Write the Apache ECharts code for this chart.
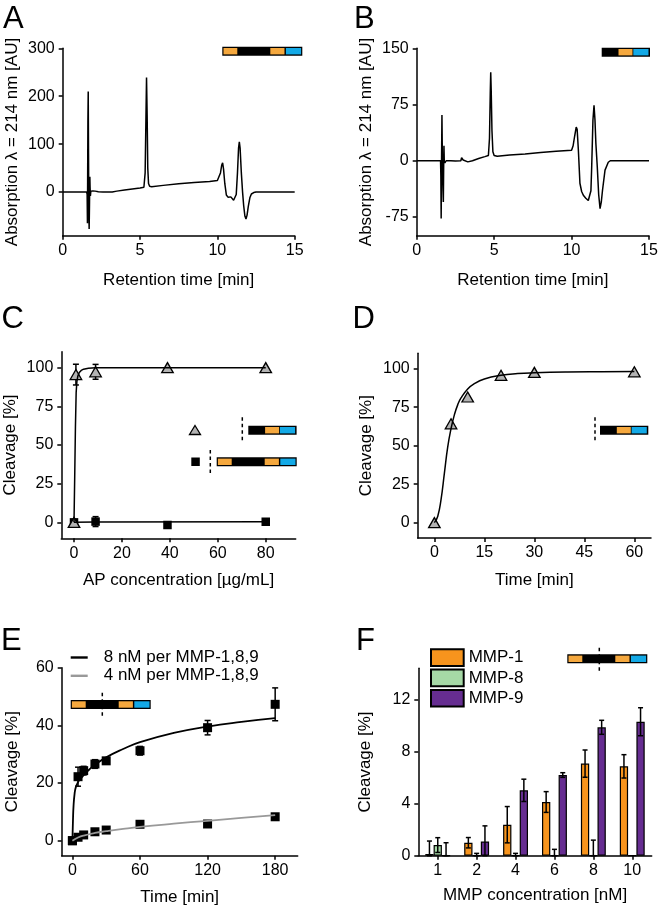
<!DOCTYPE html>
<html><head><meta charset="utf-8">
<script src="https://cdn.jsdelivr.net/npm/echarts@6/dist/echarts.min.js"></script>
<style>html,body{margin:0;padding:0;background:#fff}#c{width:661px;height:909px}</style>
</head><body><div id="c"></div>
<script>
// ---------- DATA ----------
const traceA = [[0,0],[1.55,0],[1.58,-5],[1.6,-65],[1.63,150],[1.65,210],[1.67,80],[1.69,-40],[1.71,-77],[1.73,-30],[1.755,32],[1.77,10],[1.79,-8],[1.82,2],[1.87,0],[1.95,2.5],[2.1,2],[2.3,0.5],[2.6,0],[3.2,0],[3.5,2],[4.0,4.5],[4.5,6.5],[5.0,8.5],[5.25,10],[5.33,40],[5.38,150],[5.42,239],[5.46,160],[5.5,50],[5.55,18],[5.62,12],[5.75,11],[6.5,14],[7.5,17.5],[8.5,20],[9.5,22],[10.0,24],[10.1,28],[10.2,40],[10.28,56],[10.34,61],[10.4,48],[10.48,18],[10.58,-6],[10.7,-11],[10.8,-13],[10.87,-10],[10.95,-14],[11.05,-17],[11.14,-18],[11.22,-5],[11.3,40],[11.37,92],[11.42,105],[11.47,92],[11.55,40],[11.63,0],[11.7,-28],[11.78,-50],[11.85,-56],[11.92,-48],[12.0,-30],[12.1,-12],[12.2,-4],[12.35,-1],[12.5,0],[15,0]];
const traceB = [[0,0],[1.54,0],[1.56,-20],[1.58,-77],[1.6,-10],[1.63,61],[1.66,0],[1.7,-40],[1.72,-55],[1.74,-10],[1.76,20],[1.78,0],[1.82,-3],[1.9,0],[2.2,0],[2.5,-0.5],[2.85,0],[2.9,4],[2.95,5],[3.0,1],[3.1,-1],[3.3,-1.5],[3.6,0],[4.0,3],[4.4,5.5],[4.63,7],[4.7,30],[4.75,90],[4.78,118],[4.81,95],[4.86,40],[4.92,12],[5.0,7],[5.2,6],[6,7.5],[7,9],[8,11],[9,12.5],[10.0,14],[10.1,20],[10.2,33],[10.3,45],[10.36,42],[10.44,14],[10.54,-30],[10.65,-41],[10.76,-46],[10.92,-50],[11.08,-53],[11.19,-54],[11.25,-40],[11.3,-8],[11.38,54],[11.45,74],[11.51,55],[11.57,23],[11.66,-8],[11.75,-45],[11.84,-64],[11.92,-55],[12.0,-39],[12.16,-12.5],[12.37,-2],[12.5,0],[15,0]];

const concC   = [0, 0.8, 9, 39, 80];
const triC    = [0, 95.5, 97.3, 100, 100];
const triErrC = [0, 6.7, 4.8, 0, 0];
const sqConcC = [0, 9, 39, 80];
const sqC     = [0, 0.5, -1.7, 0.4];
const sqErrC  = [0, 3.2, 0, 0];
const fitTriC = [[0,0],[0.3,30],[0.6,62],[0.9,84],[1.2,91],[1.6,94.5],[2.2,96.8],[3,98.2],[4,99],[6,99.6],[9,99.9],[15,100],[80,100]];
const fitSqC  = [[0,0],[9,0.2],[80,0.4]];

const timeD = [0, 5, 10, 20, 30, 60];
const triD  = [0, 64.2, 81.6, 95.7, 97.6, 98];
const fitD  = [[0,0],[1,4],[2,15],[3,32],[4,49],[5,61],[6,70],[7,76.5],[8,81],[10,86.8],[12,90.3],[15,93.3],[20,95.7],[25,96.8],[30,97.3],[40,97.8],[50,98],[60,98.1]];

const timeE   = [0, 5, 10, 20, 30, 60, 120, 180];
const hiE     = [0, 22.2, 24.3, 26.6, 27.7, 31.2, 39.2, 47.3];
const hiErrE  = [0, 3.3, 1.5, 1.5, 1, 1.5, 2.5, 5.7];
const loE     = [0, 1.2, 2.0, 3.1, 3.7, 5.7, 5.8, 8.3];
const loErrE  = [0, 0.5, 0.5, 0.5, 0.5, 0.5, 0.5, 1];
const fitHiE  = [[0,0],[0.5,7],[1,12],[2,16.5],[3,18.5],[5,20.3],[7,21.4],[10,22.7],[15,24.7],[20,26.3],[30,28.9],[45,31.8],[60,34.2],[90,37.4],[120,39.6],[150,41.2],[180,42.5]];
const fitLoE  = [[0,0],[5,1.1],[10,1.8],[20,2.7],[30,3.3],[45,4.1],[60,4.8],[90,5.9],[120,6.9],[150,7.9],[180,8.9]];

const catF    = ['1', '2', '4', '6', '8', '10'];
const mmp1    = [0.13, 1.0, 2.39, 4.14, 7.1, 6.89];
const mmp1Err = [1.0, 0.4, 1.4, 0.8, 1.05, 0.9];
const mmp8    = [0.82, 0, 0, 0, 0, 0];
const mmp8Err = [0.57, 0.18, 0.18, 0.49, 1.2, 0];
const mmp9    = [0, 1.1, 5.04, 6.22, 9.9, 10.33];
const mmp9Err = [1.0, 1.2, 0.86, 0.18, 0.54, 1.08];

const ticksA = [0, 5, 10, 15], yTicksA = [0, 100, 200, 300];
const yTicksB = [-75, 0, 75, 150];
const xTicksC = [0, 20, 40, 60, 80], yTicksCD = [0, 25, 50, 75, 100];
const xTicksD = [0, 15, 30, 45, 60];
const xTicksE = [0, 60, 120, 180], yTicksE = [0, 20, 40, 60];
const yTicksF = [0, 4, 8, 12];

// ---------- STYLE ----------
const FONT = 'Liberation Sans, Arial, sans-serif';
const ORANGE = '#F5A83E', BLUE = '#13A9E6';
const chart = echarts.init(document.getElementById('c'), null, {renderer: 'canvas'});

const grids = [
  {left: 62.7, top: 48.3, width: 232, height: 187.4},
  {left: 416.7, top: 48.3, width: 232.3, height: 187.4},
  {left: 61.3, top: 351.7, width: 234.4, height: 186.6},
  {left: 417.7, top: 353.3, width: 233.3, height: 184.7},
  {left: 61.7, top: 667.7, width: 236, height: 188},
  {left: 418.3, top: 668.3, width: 233.4, height: 187.4}
];

function axisBase(extra) {
  return Object.assign({
    axisLine: {show: true, onZero: false, lineStyle: {color: '#000', width: 1.5}},
    axisTick: {show: true, length: 4, lineStyle: {color: '#000', width: 1.5}},
    splitLine: {show: false},
    nameTextStyle: {fontSize: 17, color: '#000', fontFamily: FONT},
    nameLocation: 'middle'
  }, extra);
}
function vAxis(i, min, max, ticks, name, gap, extra) {
  const a = axisBase(Object.assign({type: 'value', gridIndex: i, min, max, name, nameGap: gap}, extra || {}));
  a.axisTick.customValues = ticks;
  a.axisLabel = {customValues: ticks, fontSize: 16, color: '#000', fontFamily: FONT, margin: 8};
  return a;
}
function xv(i, min, max, ticks, name, gap) {
  const a = vAxis(i, min, max, ticks, name, gap);
  a.axisLabel.margin = 7;
  return a;
}

function errRender(offset, cap) {
  return function (params, api) {
    const x = api.value(0), lo = api.value(1), hi = api.value(2);
    const p1 = api.coord([x, hi]), p2 = api.coord([x, lo]);
    const px = p1[0] + offset;
    const st = {stroke: '#000', lineWidth: 1.5};
    return {type: 'group', children: [
      {type: 'line', shape: {x1: px, y1: p1[1], x2: px, y2: p2[1]}, style: st},
      {type: 'line', shape: {x1: px - cap, y1: p1[1], x2: px + cap, y2: p1[1]}, style: st},
      {type: 'line', shape: {x1: px - cap, y1: p2[1], x2: px + cap, y2: p2[1]}, style: st}
    ]};
  };
}
function errData(xs, vs, es, clampZero) {
  const out = [];
  xs.forEach((x, i) => { if (es[i] > 0) out.push([x, clampZero ? Math.max(0, vs[i] - es[i]) : vs[i] - es[i], vs[i] + es[i]]); });
  return out;
}
const zip = (a, b) => a.map((v, i) => [v, b[i]]);

const BW = 8.3;
const TRI = {color: '#b3b3b3', borderColor: '#000', borderWidth: 1.3, opacity: 1};
const SQ = {color: '#000', opacity: 1};
const series = [
  {type: 'line', xAxisIndex: 0, yAxisIndex: 0, data: traceA, showSymbol: false, lineStyle: {color: '#000', width: 1.5}, itemStyle: {color: '#000'}},
  {type: 'line', xAxisIndex: 1, yAxisIndex: 1, data: traceB, showSymbol: false, lineStyle: {color: '#000', width: 1.5}, itemStyle: {color: '#000'}},
  // C
  {type: 'line', xAxisIndex: 2, yAxisIndex: 2, data: fitTriC, showSymbol: false, lineStyle: {color: '#000', width: 1.5}},
  {type: 'line', xAxisIndex: 2, yAxisIndex: 2, data: fitSqC, showSymbol: false, lineStyle: {color: '#000', width: 1.5}},
  {type: 'custom', xAxisIndex: 2, yAxisIndex: 2, renderItem: errRender(0, 3), data: errData(concC, triC, triErrC)},
  {type: 'custom', xAxisIndex: 2, yAxisIndex: 2, renderItem: errRender(0, 3), data: errData(sqConcC, sqC, sqErrC)},
  {type: 'scatter', xAxisIndex: 2, yAxisIndex: 2, data: zip(sqConcC, sqC), symbol: 'rect', symbolSize: 8.5, itemStyle: SQ},
  {type: 'scatter', xAxisIndex: 2, yAxisIndex: 2, data: zip(concC, triC), symbol: 'triangle', symbolSize: [11.5, 10], itemStyle: TRI},
  // D
  {type: 'line', xAxisIndex: 3, yAxisIndex: 3, data: fitD, showSymbol: false, smooth: true, lineStyle: {color: '#000', width: 1.5}},
  {type: 'scatter', xAxisIndex: 3, yAxisIndex: 3, data: zip(timeD, triD), symbol: 'triangle', symbolSize: [11.5, 10], itemStyle: TRI},
  // E
  {name: '8 nM per MMP-1,8,9', type: 'line', xAxisIndex: 4, yAxisIndex: 4, data: fitHiE, showSymbol: false, smooth: true, lineStyle: {color: '#000', width: 1.8}, itemStyle: {color: '#000'}},
  {name: '4 nM per MMP-1,8,9', type: 'line', xAxisIndex: 4, yAxisIndex: 4, data: fitLoE, showSymbol: false, smooth: true, lineStyle: {color: '#999', width: 1.8}, itemStyle: {color: '#999'}},
  {type: 'custom', xAxisIndex: 4, yAxisIndex: 4, renderItem: errRender(0, 3), data: errData(timeE, hiE, hiErrE)},
  {type: 'custom', xAxisIndex: 4, yAxisIndex: 4, renderItem: errRender(0, 3), data: errData(timeE, loE, loErrE)},
  {type: 'scatter', xAxisIndex: 4, yAxisIndex: 4, data: zip(timeE, hiE), symbol: 'rect', symbolSize: 9, itemStyle: SQ},
  {type: 'scatter', xAxisIndex: 4, yAxisIndex: 4, data: zip(timeE, loE), symbol: 'rect', symbolSize: 9, itemStyle: SQ},
  // F
  {name: 'MMP-1', type: 'bar', xAxisIndex: 5, yAxisIndex: 5, data: mmp1, barWidth: BW, barGap: '0%', itemStyle: {color: '#F7941D', borderColor: '#000', borderWidth: 1.2}},
  {name: 'MMP-8', type: 'bar', xAxisIndex: 5, yAxisIndex: 5, data: mmp8, barWidth: BW, barGap: '0%', itemStyle: {color: '#A6D9A6', borderColor: '#000', borderWidth: 1.2}},
  {name: 'MMP-9', type: 'bar', xAxisIndex: 5, yAxisIndex: 5, data: mmp9, barWidth: BW, barGap: '0%', itemStyle: {color: '#662D91', borderColor: '#000', borderWidth: 1.2}},
  {type: 'custom', xAxisIndex: 5, yAxisIndex: 5, z: 5, renderItem: errRender(-BW, 2.5), data: errData(catF.map((c, i) => i), mmp1, mmp1Err, true)},
  {type: 'custom', xAxisIndex: 5, yAxisIndex: 5, z: 5, renderItem: errRender(0, 2.5), data: errData(catF.map((c, i) => i), mmp8, mmp8Err, true)},
  {type: 'custom', xAxisIndex: 5, yAxisIndex: 5, z: 5, renderItem: errRender(BW, 2.5), data: errData(catF.map((c, i) => i), mmp9, mmp9Err, true)}
];

// ---------- GRAPHICS (panel letters & construct schematics) ----------
const g = [];
function letter(t, x, y) { g.push({type: 'text', x, y, style: {text: t, fontSize: 31, fontFamily: FONT, fill: '#000', textVerticalAlign: 'top'}}); }
function dash(x, y1, y2) { g.push({type: 'line', shape: {x1: x, y1, x2: x, y2}, style: {stroke: '#000', lineWidth: 1.5, lineDash: [3.5, 3]}}); }
function construct(x0, y0, kind) {
  const inner = kind === 'full'
    ? [[1.2, 13.8, ORANGE], [48, 14.2, ORANGE], [63.6, 15.2, BLUE]]
    : [[16.8, 14, ORANGE], [31.6, 15.2, BLUE]];
  const w = kind === 'full' ? 80 : 48.3;
  g.push({type: 'rect', shape: {x: x0, y: y0, width: w, height: 9}, style: {fill: '#000'}});
  inner.forEach(s => g.push({type: 'rect', shape: {x: x0 + s[0], y: y0 + 1.3, width: s[1], height: 6.4}, style: {fill: s[2]}}));
}
letter('A', 3, 4); letter('B', 354, 4); letter('C', 1.5, 304); letter('D', 352.5, 304); letter('E', 1, 626); letter('F', 356, 626);
construct(222.3, 46.7, 'full');
construct(601.7, 47.7, 'short');
dash(242.3, 417.3, 441.7); construct(248.3, 425.7, 'short');
dash(210.3, 450, 473.3); construct(216.7, 457.3, 'full');
g.push({type: 'polygon', shape: {points: [[195, 425.5], [200.5, 434.5], [189.5, 434.5]]}, style: {fill: '#b3b3b3', stroke: '#000', lineWidth: 1.3}});
g.push({type: 'rect', shape: {x: 191.3, y: 457.5, width: 8.5, height: 8.5}, style: {fill: '#000'}});
dash(595, 417.3, 441.7); construct(600, 425.7, 'short');
dash(102.3, 692.7, 715.7); construct(70.7, 700, 'full');
dash(599.3, 647.7, 670.7); construct(567.3, 654.3, 'full');

const option = {
  backgroundColor: '#fff',
  animation: false,
  textStyle: {fontFamily: FONT},
  grid: grids,
  xAxis: [
    xv(0, 0, 15, ticksA, 'Retention time [min]', 36),
    xv(1, 0, 15, ticksA, 'Retention time [min]', 36),
    xv(2, -5.3, 92.5, xTicksC, 'AP concentration [µg/mL]', 34),
    xv(3, -5, 65, xTicksD, 'Time [min]', 34),
    xv(4, -9.5, 200, xTicksE, 'Time [min]', 33),
    Object.assign(axisBase({type: 'category', gridIndex: 5, data: catF, name: 'MMP concentration [nM]', nameGap: 31}), {
      axisTick: {show: true, alignWithLabel: true, length: 4, lineStyle: {color: '#000', width: 1.5}},
      axisLabel: {fontSize: 16, color: '#000', fontFamily: FONT, margin: 7}
    })
  ],
  yAxis: [
    vAxis(0, -91, 300, yTicksA, 'Absorption λ = 214 nm [AU]', 42),
    vAxis(1, -100, 150, yTicksB, 'Absorption λ = 214 nm [AU]', 42),
    vAxis(2, -10.3, 110.3, yTicksCD, 'Cleavage [%]', 42),
    vAxis(3, -10, 110, yTicksCD, 'Cleavage [%]', 43),
    vAxis(4, -5.2, 60, yTicksE, 'Cleavage [%]', 41),
    vAxis(5, 0, 14.45, yTicksF, 'Cleavage [%]', 44)
  ],
  legend: [
    {data: ['8 nM per MMP-1,8,9', '4 nM per MMP-1,8,9'], orient: 'vertical', left: 70.7, top: 649, padding: 0, itemWidth: 17, itemHeight: 2.4, icon: 'rect', itemGap: 1.3, selectedMode: false,
     textStyle: {fontSize: 17, color: '#000', fontFamily: FONT, padding: [0, 0, 0, 11]}},
    {data: ['MMP-1', 'MMP-8', 'MMP-9'], orient: 'vertical', left: 430, top: 648.3, padding: 0, itemWidth: 32.7, itemHeight: 16.7, itemGap: 1.6, icon: 'rect', selectedMode: false,
     textStyle: {fontSize: 17, color: '#000', fontFamily: FONT}}
  ],
  graphic: g,
  series
};
chart.setOption(option);
</script></body></html>
